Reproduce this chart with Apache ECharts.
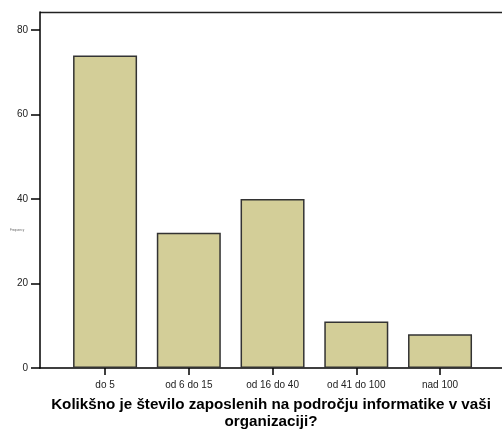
<!DOCTYPE html>
<html>
<head>
<meta charset="utf-8">
<script src="https://cdn.jsdelivr.net/npm/echarts@6/dist/echarts.min.js"></script>
<style>
  html, body { margin: 0; padding: 0; background: #fff; }
  #chart { width: 502px; height: 433px; }
</style>
</head>
<body>
<div id="chart"></div>
<script>
// Survey answers: number of IT employees in the organisation
const categories = ['do 5', 'od 6 do 15', 'od 16 do 40', 'od 41 do 100', 'nad 100'];
const frequencies = [74, 32, 40, 11, 8];
const yTicks = [0, 20, 40, 60, 80];
const titleLines = ['Kolikšno je število zaposlenih na področju informatike v vaši', 'organizaciji?'];

const FONT = '"Liberation Sans", Arial, sans-serif';
const chart = echarts.init(document.getElementById('chart'), null, { renderer: 'canvas' });

const positions = categories.map((_, i) => i);

chart.setOption({
  animation: false,
  backgroundColor: '#ffffff',
  grid: { left: 40, right: 0, top: 12, bottom: 65, containLabel: false },
  xAxis: {
    type: 'value',
    min: -0.777,
    max: 4.74,
    axisLine: { show: true, onZero: false, lineStyle: { color: '#000', width: 1.5 } },
    axisTick: { show: true, customValues: positions, length: 7, lineStyle: { color: '#000', width: 1.5 } },
    axisLabel: {
      show: true,
      customValues: positions,
      formatter: v => categories[Math.round(v)],
      color: '#222',
      fontSize: 10,
      fontFamily: FONT,
      margin: 12
    },
    splitLine: { show: false }
  },
  yAxis: {
    type: 'value',
    min: 0,
    max: 84.3,
    axisLine: { show: true, onZero: false, lineStyle: { color: '#000', width: 1.5 } },
    axisTick: { show: true, customValues: yTicks, length: 9, lineStyle: { color: '#000', width: 1.5 } },
    axisLabel: {
      show: true,
      customValues: yTicks,
      color: '#222',
      fontSize: 10,
      fontFamily: FONT,
      margin: 12
    },
    splitLine: { show: false }
  },
  series: [{
    type: 'bar',
    barWidth: 64,
    data: frequencies.map((v, i) => [positions[i], v]),
    itemStyle: { color: '#d3ce98', borderColor: '#333', borderWidth: 1.5 }
  }],
  graphic: [
    // top frame line
    { type: 'line', shape: { x1: 40, y1: 12.5, x2: 502, y2: 12.5 }, style: { stroke: '#222', lineWidth: 1.5 } },
    // tiny y-axis caption
    { type: 'text', x: 10, y: 229, style: { text: 'Frequency', fontSize: 3, fill: '#666', fontFamily: FONT } },
    {
      type: 'text', x: 271, y: 396,
      style: {
        text: titleLines.join('\n'),
        fontSize: 15.2, fontWeight: 'bold', lineHeight: 17.5,
        align: 'center', verticalAlign: 'top',
        fill: '#000',
        fontFamily: FONT
      }
    }
  ]
});
</script>
</body>
</html>
